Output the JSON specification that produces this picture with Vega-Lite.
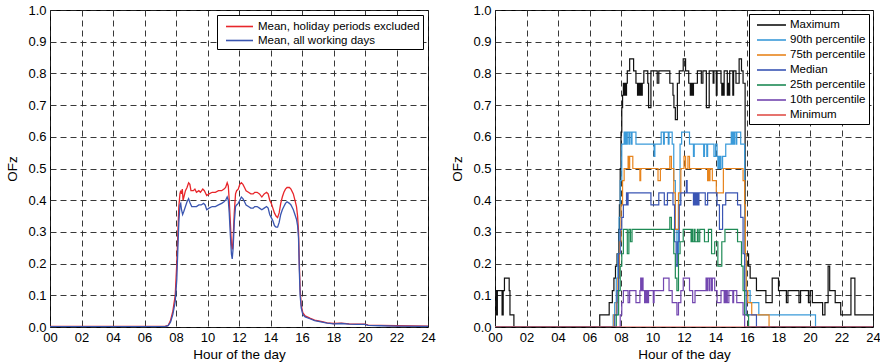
{
  "$schema": "https://vega.github.io/schema/vega-lite/v6.json",
  "background": "white",
  "padding": {"left": 5, "top": 3, "right": 0, "bottom": 2},
  "spacing": 14,
  "config": {
    "font": "Liberation Sans",
    "view": {"stroke": "black", "strokeWidth": 1},
    "axis": {
      "grid": true, "gridColor": "#222", "gridDash": [6, 4], "gridOpacity": 1, "gridWidth": 0.9,
      "domain": false, "ticks": false,
      "labelFontSize": 13, "labelColor": "#000", "labelPadding": 4,
      "titleFontSize": 13.5, "titleFontWeight": "normal", "titleColor": "#000"
    },
    "legend": {
      "orient": "top-right", "offset": 5, "strokeColor": "#000", "fillColor": "#fff",
      "padding": 3, "cornerRadius": 0, "title": null, "labelLimit": 400,
      "symbolStrokeWidth": 1.6,
      "labelFontSize": 11.5, "labelColor": "#000"
    }
  },
  "datasets": {
    "mean": [
      {"series":"Mean, holiday periods excluded","hour":0,"ofz":0.002},
      {"series":"Mean, holiday periods excluded","hour":7.3,"ofz":0.002},
      {"series":"Mean, holiday periods excluded","hour":7.5,"ofz":0.005},
      {"series":"Mean, holiday periods excluded","hour":7.65,"ofz":0.02},
      {"series":"Mean, holiday periods excluded","hour":7.8,"ofz":0.05},
      {"series":"Mean, holiday periods excluded","hour":7.95,"ofz":0.1},
      {"series":"Mean, holiday periods excluded","hour":8.05,"ofz":0.2},
      {"series":"Mean, holiday periods excluded","hour":8.12,"ofz":0.3},
      {"series":"Mean, holiday periods excluded","hour":8.18,"ofz":0.38},
      {"series":"Mean, holiday periods excluded","hour":8.25,"ofz":0.42},
      {"series":"Mean, holiday periods excluded","hour":8.3,"ofz":0.43},
      {"series":"Mean, holiday periods excluded","hour":8.35,"ofz":0.42},
      {"series":"Mean, holiday periods excluded","hour":8.4,"ofz":0.435},
      {"series":"Mean, holiday periods excluded","hour":8.45,"ofz":0.4},
      {"series":"Mean, holiday periods excluded","hour":8.5,"ofz":0.41},
      {"series":"Mean, holiday periods excluded","hour":8.6,"ofz":0.43},
      {"series":"Mean, holiday periods excluded","hour":8.7,"ofz":0.44},
      {"series":"Mean, holiday periods excluded","hour":8.8,"ofz":0.455},
      {"series":"Mean, holiday periods excluded","hour":8.88,"ofz":0.45},
      {"series":"Mean, holiday periods excluded","hour":8.95,"ofz":0.43},
      {"series":"Mean, holiday periods excluded","hour":9.1,"ofz":0.43},
      {"series":"Mean, holiday periods excluded","hour":9.2,"ofz":0.435},
      {"series":"Mean, holiday periods excluded","hour":9.3,"ofz":0.425},
      {"series":"Mean, holiday periods excluded","hour":9.45,"ofz":0.43},
      {"series":"Mean, holiday periods excluded","hour":9.55,"ofz":0.425},
      {"series":"Mean, holiday periods excluded","hour":9.7,"ofz":0.435},
      {"series":"Mean, holiday periods excluded","hour":9.8,"ofz":0.43},
      {"series":"Mean, holiday periods excluded","hour":9.95,"ofz":0.415},
      {"series":"Mean, holiday periods excluded","hour":10.1,"ofz":0.42},
      {"series":"Mean, holiday periods excluded","hour":10.3,"ofz":0.425},
      {"series":"Mean, holiday periods excluded","hour":10.5,"ofz":0.425},
      {"series":"Mean, holiday periods excluded","hour":10.7,"ofz":0.43},
      {"series":"Mean, holiday periods excluded","hour":10.9,"ofz":0.43},
      {"series":"Mean, holiday periods excluded","hour":11.05,"ofz":0.435},
      {"series":"Mean, holiday periods excluded","hour":11.15,"ofz":0.44},
      {"series":"Mean, holiday periods excluded","hour":11.25,"ofz":0.455},
      {"series":"Mean, holiday periods excluded","hour":11.32,"ofz":0.445},
      {"series":"Mean, holiday periods excluded","hour":11.38,"ofz":0.4},
      {"series":"Mean, holiday periods excluded","hour":11.45,"ofz":0.33},
      {"series":"Mean, holiday periods excluded","hour":11.52,"ofz":0.26},
      {"series":"Mean, holiday periods excluded","hour":11.58,"ofz":0.245},
      {"series":"Mean, holiday periods excluded","hour":11.63,"ofz":0.28},
      {"series":"Mean, holiday periods excluded","hour":11.7,"ofz":0.36},
      {"series":"Mean, holiday periods excluded","hour":11.78,"ofz":0.42},
      {"series":"Mean, holiday periods excluded","hour":11.85,"ofz":0.43},
      {"series":"Mean, holiday periods excluded","hour":11.95,"ofz":0.435},
      {"series":"Mean, holiday periods excluded","hour":12.05,"ofz":0.45},
      {"series":"Mean, holiday periods excluded","hour":12.15,"ofz":0.455},
      {"series":"Mean, holiday periods excluded","hour":12.25,"ofz":0.45},
      {"series":"Mean, holiday periods excluded","hour":12.35,"ofz":0.44},
      {"series":"Mean, holiday periods excluded","hour":12.45,"ofz":0.43},
      {"series":"Mean, holiday periods excluded","hour":12.6,"ofz":0.425},
      {"series":"Mean, holiday periods excluded","hour":12.75,"ofz":0.42},
      {"series":"Mean, holiday periods excluded","hour":12.9,"ofz":0.42},
      {"series":"Mean, holiday periods excluded","hour":13.0,"ofz":0.425},
      {"series":"Mean, holiday periods excluded","hour":13.15,"ofz":0.425},
      {"series":"Mean, holiday periods excluded","hour":13.3,"ofz":0.42},
      {"series":"Mean, holiday periods excluded","hour":13.45,"ofz":0.41},
      {"series":"Mean, holiday periods excluded","hour":13.6,"ofz":0.42},
      {"series":"Mean, holiday periods excluded","hour":13.75,"ofz":0.425},
      {"series":"Mean, holiday periods excluded","hour":13.85,"ofz":0.42},
      {"series":"Mean, holiday periods excluded","hour":13.95,"ofz":0.4},
      {"series":"Mean, holiday periods excluded","hour":14.05,"ofz":0.39},
      {"series":"Mean, holiday periods excluded","hour":14.15,"ofz":0.375},
      {"series":"Mean, holiday periods excluded","hour":14.25,"ofz":0.36},
      {"series":"Mean, holiday periods excluded","hour":14.35,"ofz":0.35},
      {"series":"Mean, holiday periods excluded","hour":14.45,"ofz":0.345},
      {"series":"Mean, holiday periods excluded","hour":14.55,"ofz":0.36},
      {"series":"Mean, holiday periods excluded","hour":14.65,"ofz":0.39},
      {"series":"Mean, holiday periods excluded","hour":14.75,"ofz":0.41},
      {"series":"Mean, holiday periods excluded","hour":14.85,"ofz":0.425},
      {"series":"Mean, holiday periods excluded","hour":14.95,"ofz":0.435},
      {"series":"Mean, holiday periods excluded","hour":15.05,"ofz":0.44},
      {"series":"Mean, holiday periods excluded","hour":15.2,"ofz":0.44},
      {"series":"Mean, holiday periods excluded","hour":15.3,"ofz":0.435},
      {"series":"Mean, holiday periods excluded","hour":15.45,"ofz":0.42},
      {"series":"Mean, holiday periods excluded","hour":15.55,"ofz":0.4},
      {"series":"Mean, holiday periods excluded","hour":15.65,"ofz":0.38},
      {"series":"Mean, holiday periods excluded","hour":15.72,"ofz":0.35},
      {"series":"Mean, holiday periods excluded","hour":15.78,"ofz":0.3},
      {"series":"Mean, holiday periods excluded","hour":15.83,"ofz":0.2},
      {"series":"Mean, holiday periods excluded","hour":15.88,"ofz":0.12},
      {"series":"Mean, holiday periods excluded","hour":15.95,"ofz":0.07},
      {"series":"Mean, holiday periods excluded","hour":16.05,"ofz":0.045},
      {"series":"Mean, holiday periods excluded","hour":16.2,"ofz":0.035},
      {"series":"Mean, holiday periods excluded","hour":16.5,"ofz":0.028},
      {"series":"Mean, holiday periods excluded","hour":16.8,"ofz":0.022},
      {"series":"Mean, holiday periods excluded","hour":17.2,"ofz":0.018},
      {"series":"Mean, holiday periods excluded","hour":17.6,"ofz":0.013},
      {"series":"Mean, holiday periods excluded","hour":18.0,"ofz":0.011},
      {"series":"Mean, holiday periods excluded","hour":18.5,"ofz":0.012},
      {"series":"Mean, holiday periods excluded","hour":19.0,"ofz":0.01},
      {"series":"Mean, holiday periods excluded","hour":19.5,"ofz":0.009},
      {"series":"Mean, holiday periods excluded","hour":20.0,"ofz":0.009},
      {"series":"Mean, holiday periods excluded","hour":20.2,"ofz":0.006},
      {"series":"Mean, holiday periods excluded","hour":21.0,"ofz":0.005},
      {"series":"Mean, holiday periods excluded","hour":22.0,"ofz":0.004},
      {"series":"Mean, holiday periods excluded","hour":24,"ofz":0.003},
      {"series":"Mean, all working days","hour":0,"ofz":0.001},
      {"series":"Mean, all working days","hour":7.3,"ofz":0.001},
      {"series":"Mean, all working days","hour":7.5,"ofz":0.004},
      {"series":"Mean, all working days","hour":7.65,"ofz":0.015},
      {"series":"Mean, all working days","hour":7.8,"ofz":0.04},
      {"series":"Mean, all working days","hour":7.95,"ofz":0.08},
      {"series":"Mean, all working days","hour":8.05,"ofz":0.15},
      {"series":"Mean, all working days","hour":8.12,"ofz":0.25},
      {"series":"Mean, all working days","hour":8.18,"ofz":0.33},
      {"series":"Mean, all working days","hour":8.25,"ofz":0.385},
      {"series":"Mean, all working days","hour":8.3,"ofz":0.39},
      {"series":"Mean, all working days","hour":8.35,"ofz":0.37},
      {"series":"Mean, all working days","hour":8.42,"ofz":0.355},
      {"series":"Mean, all working days","hour":8.5,"ofz":0.365},
      {"series":"Mean, all working days","hour":8.6,"ofz":0.38},
      {"series":"Mean, all working days","hour":8.7,"ofz":0.395},
      {"series":"Mean, all working days","hour":8.8,"ofz":0.405},
      {"series":"Mean, all working days","hour":8.9,"ofz":0.39},
      {"series":"Mean, all working days","hour":9.0,"ofz":0.38},
      {"series":"Mean, all working days","hour":9.15,"ofz":0.38},
      {"series":"Mean, all working days","hour":9.3,"ofz":0.38},
      {"series":"Mean, all working days","hour":9.45,"ofz":0.385},
      {"series":"Mean, all working days","hour":9.6,"ofz":0.385},
      {"series":"Mean, all working days","hour":9.75,"ofz":0.39},
      {"series":"Mean, all working days","hour":9.85,"ofz":0.385},
      {"series":"Mean, all working days","hour":9.95,"ofz":0.37},
      {"series":"Mean, all working days","hour":10.1,"ofz":0.375},
      {"series":"Mean, all working days","hour":10.3,"ofz":0.38},
      {"series":"Mean, all working days","hour":10.5,"ofz":0.38},
      {"series":"Mean, all working days","hour":10.7,"ofz":0.385},
      {"series":"Mean, all working days","hour":10.9,"ofz":0.39},
      {"series":"Mean, all working days","hour":11.05,"ofz":0.395},
      {"series":"Mean, all working days","hour":11.15,"ofz":0.4},
      {"series":"Mean, all working days","hour":11.25,"ofz":0.41},
      {"series":"Mean, all working days","hour":11.32,"ofz":0.4},
      {"series":"Mean, all working days","hour":11.38,"ofz":0.36},
      {"series":"Mean, all working days","hour":11.45,"ofz":0.29},
      {"series":"Mean, all working days","hour":11.52,"ofz":0.23},
      {"series":"Mean, all working days","hour":11.57,"ofz":0.215},
      {"series":"Mean, all working days","hour":11.63,"ofz":0.25},
      {"series":"Mean, all working days","hour":11.7,"ofz":0.33},
      {"series":"Mean, all working days","hour":11.78,"ofz":0.38},
      {"series":"Mean, all working days","hour":11.85,"ofz":0.385},
      {"series":"Mean, all working days","hour":11.95,"ofz":0.39},
      {"series":"Mean, all working days","hour":12.05,"ofz":0.4},
      {"series":"Mean, all working days","hour":12.15,"ofz":0.41},
      {"series":"Mean, all working days","hour":12.25,"ofz":0.405},
      {"series":"Mean, all working days","hour":12.35,"ofz":0.395},
      {"series":"Mean, all working days","hour":12.45,"ofz":0.385},
      {"series":"Mean, all working days","hour":12.6,"ofz":0.38},
      {"series":"Mean, all working days","hour":12.75,"ofz":0.375},
      {"series":"Mean, all working days","hour":12.9,"ofz":0.375},
      {"series":"Mean, all working days","hour":13.0,"ofz":0.38},
      {"series":"Mean, all working days","hour":13.15,"ofz":0.38},
      {"series":"Mean, all working days","hour":13.3,"ofz":0.375},
      {"series":"Mean, all working days","hour":13.45,"ofz":0.37},
      {"series":"Mean, all working days","hour":13.6,"ofz":0.375},
      {"series":"Mean, all working days","hour":13.75,"ofz":0.38},
      {"series":"Mean, all working days","hour":13.85,"ofz":0.375},
      {"series":"Mean, all working days","hour":13.95,"ofz":0.355},
      {"series":"Mean, all working days","hour":14.05,"ofz":0.345},
      {"series":"Mean, all working days","hour":14.15,"ofz":0.335},
      {"series":"Mean, all working days","hour":14.25,"ofz":0.32},
      {"series":"Mean, all working days","hour":14.35,"ofz":0.315},
      {"series":"Mean, all working days","hour":14.45,"ofz":0.315},
      {"series":"Mean, all working days","hour":14.55,"ofz":0.33},
      {"series":"Mean, all working days","hour":14.65,"ofz":0.355},
      {"series":"Mean, all working days","hour":14.75,"ofz":0.37},
      {"series":"Mean, all working days","hour":14.85,"ofz":0.38},
      {"series":"Mean, all working days","hour":14.95,"ofz":0.39},
      {"series":"Mean, all working days","hour":15.05,"ofz":0.395},
      {"series":"Mean, all working days","hour":15.2,"ofz":0.39},
      {"series":"Mean, all working days","hour":15.3,"ofz":0.385},
      {"series":"Mean, all working days","hour":15.45,"ofz":0.37},
      {"series":"Mean, all working days","hour":15.55,"ofz":0.355},
      {"series":"Mean, all working days","hour":15.65,"ofz":0.34},
      {"series":"Mean, all working days","hour":15.72,"ofz":0.32},
      {"series":"Mean, all working days","hour":15.78,"ofz":0.28},
      {"series":"Mean, all working days","hour":15.83,"ofz":0.18},
      {"series":"Mean, all working days","hour":15.88,"ofz":0.1},
      {"series":"Mean, all working days","hour":15.95,"ofz":0.06},
      {"series":"Mean, all working days","hour":16.05,"ofz":0.04},
      {"series":"Mean, all working days","hour":16.2,"ofz":0.032},
      {"series":"Mean, all working days","hour":16.5,"ofz":0.026},
      {"series":"Mean, all working days","hour":16.8,"ofz":0.02},
      {"series":"Mean, all working days","hour":17.2,"ofz":0.016},
      {"series":"Mean, all working days","hour":17.6,"ofz":0.012},
      {"series":"Mean, all working days","hour":18.0,"ofz":0.01},
      {"series":"Mean, all working days","hour":18.5,"ofz":0.011},
      {"series":"Mean, all working days","hour":19.0,"ofz":0.009},
      {"series":"Mean, all working days","hour":19.5,"ofz":0.008},
      {"series":"Mean, all working days","hour":20.0,"ofz":0.008},
      {"series":"Mean, all working days","hour":20.2,"ofz":0.005},
      {"series":"Mean, all working days","hour":21.0,"ofz":0.004},
      {"series":"Mean, all working days","hour":22.0,"ofz":0.003},
      {"series":"Mean, all working days","hour":24,"ofz":0.002}
    ],
    "pct": [
      {"series":"Maximum","hour":0,"ofz":0.115},
      {"series":"Maximum","hour":0.1,"ofz":0.038},
      {"series":"Maximum","hour":0.15,"ofz":0.115},
      {"series":"Maximum","hour":0.45,"ofz":0.038},
      {"series":"Maximum","hour":0.52,"ofz":0.115},
      {"series":"Maximum","hour":0.6,"ofz":0.154},
      {"series":"Maximum","hour":0.9,"ofz":0.115},
      {"series":"Maximum","hour":0.95,"ofz":0.038},
      {"series":"Maximum","hour":1.2,"ofz":0},
      {"series":"Maximum","hour":6.65,"ofz":0.038},
      {"series":"Maximum","hour":7.25,"ofz":0.077},
      {"series":"Maximum","hour":7.45,"ofz":0.115},
      {"series":"Maximum","hour":7.55,"ofz":0.154},
      {"series":"Maximum","hour":7.65,"ofz":0.192},
      {"series":"Maximum","hour":7.75,"ofz":0.231},
      {"series":"Maximum","hour":7.85,"ofz":0.308},
      {"series":"Maximum","hour":7.9,"ofz":0.385},
      {"series":"Maximum","hour":7.95,"ofz":0.5},
      {"series":"Maximum","hour":8.0,"ofz":0.615},
      {"series":"Maximum","hour":8.05,"ofz":0.692},
      {"series":"Maximum","hour":8.1,"ofz":0.731},
      {"series":"Maximum","hour":8.15,"ofz":0.769},
      {"series":"Maximum","hour":8.2,"ofz":0.731},
      {"series":"Maximum","hour":8.23,"ofz":0.769},
      {"series":"Maximum","hour":8.26,"ofz":0.731},
      {"series":"Maximum","hour":8.29,"ofz":0.769},
      {"series":"Maximum","hour":8.32,"ofz":0.731},
      {"series":"Maximum","hour":8.35,"ofz":0.769},
      {"series":"Maximum","hour":8.4,"ofz":0.808},
      {"series":"Maximum","hour":8.55,"ofz":0.846},
      {"series":"Maximum","hour":8.8,"ofz":0.808},
      {"series":"Maximum","hour":8.95,"ofz":0.769},
      {"series":"Maximum","hour":9.05,"ofz":0.731},
      {"series":"Maximum","hour":9.08,"ofz":0.769},
      {"series":"Maximum","hour":9.12,"ofz":0.731},
      {"series":"Maximum","hour":9.16,"ofz":0.769},
      {"series":"Maximum","hour":9.2,"ofz":0.731},
      {"series":"Maximum","hour":9.24,"ofz":0.769},
      {"series":"Maximum","hour":9.28,"ofz":0.731},
      {"series":"Maximum","hour":9.35,"ofz":0.769},
      {"series":"Maximum","hour":9.45,"ofz":0.808},
      {"series":"Maximum","hour":9.7,"ofz":0.769},
      {"series":"Maximum","hour":9.75,"ofz":0.692},
      {"series":"Maximum","hour":9.9,"ofz":0.808},
      {"series":"Maximum","hour":10.3,"ofz":0.769},
      {"series":"Maximum","hour":10.4,"ofz":0.808},
      {"series":"Maximum","hour":11.1,"ofz":0.769},
      {"series":"Maximum","hour":11.3,"ofz":0.731},
      {"series":"Maximum","hour":11.36,"ofz":0.692},
      {"series":"Maximum","hour":11.45,"ofz":0.654},
      {"series":"Maximum","hour":11.58,"ofz":0.769},
      {"series":"Maximum","hour":11.7,"ofz":0.808},
      {"series":"Maximum","hour":11.95,"ofz":0.846},
      {"series":"Maximum","hour":12.1,"ofz":0.808},
      {"series":"Maximum","hour":12.3,"ofz":0.769},
      {"series":"Maximum","hour":12.4,"ofz":0.731},
      {"series":"Maximum","hour":12.44,"ofz":0.769},
      {"series":"Maximum","hour":12.48,"ofz":0.731},
      {"series":"Maximum","hour":12.52,"ofz":0.769},
      {"series":"Maximum","hour":12.56,"ofz":0.731},
      {"series":"Maximum","hour":12.6,"ofz":0.769},
      {"series":"Maximum","hour":12.85,"ofz":0.808},
      {"series":"Maximum","hour":13.1,"ofz":0.769},
      {"series":"Maximum","hour":13.2,"ofz":0.808},
      {"series":"Maximum","hour":13.42,"ofz":0.692},
      {"series":"Maximum","hour":13.6,"ofz":0.808},
      {"series":"Maximum","hour":13.85,"ofz":0.769},
      {"series":"Maximum","hour":13.9,"ofz":0.808},
      {"series":"Maximum","hour":14.05,"ofz":0.731},
      {"series":"Maximum","hour":14.1,"ofz":0.808},
      {"series":"Maximum","hour":14.35,"ofz":0.769},
      {"series":"Maximum","hour":14.4,"ofz":0.731},
      {"series":"Maximum","hour":14.44,"ofz":0.769},
      {"series":"Maximum","hour":14.48,"ofz":0.731},
      {"series":"Maximum","hour":14.55,"ofz":0.808},
      {"series":"Maximum","hour":14.75,"ofz":0.731},
      {"series":"Maximum","hour":14.8,"ofz":0.769},
      {"series":"Maximum","hour":14.85,"ofz":0.731},
      {"series":"Maximum","hour":14.9,"ofz":0.808},
      {"series":"Maximum","hour":15.1,"ofz":0.731},
      {"series":"Maximum","hour":15.15,"ofz":0.808},
      {"series":"Maximum","hour":15.3,"ofz":0.769},
      {"series":"Maximum","hour":15.5,"ofz":0.846},
      {"series":"Maximum","hour":15.65,"ofz":0.808},
      {"series":"Maximum","hour":15.75,"ofz":0.769},
      {"series":"Maximum","hour":15.88,"ofz":0.231},
      {"series":"Maximum","hour":16.1,"ofz":0.192},
      {"series":"Maximum","hour":16.2,"ofz":0.154},
      {"series":"Maximum","hour":16.6,"ofz":0.115},
      {"series":"Maximum","hour":17.2,"ofz":0.077},
      {"series":"Maximum","hour":17.6,"ofz":0.154},
      {"series":"Maximum","hour":18.0,"ofz":0.115},
      {"series":"Maximum","hour":18.5,"ofz":0.077},
      {"series":"Maximum","hour":18.6,"ofz":0.115},
      {"series":"Maximum","hour":19.3,"ofz":0.077},
      {"series":"Maximum","hour":19.4,"ofz":0.115},
      {"series":"Maximum","hour":19.9,"ofz":0.077},
      {"series":"Maximum","hour":20.0,"ofz":0.115},
      {"series":"Maximum","hour":20.15,"ofz":0.077},
      {"series":"Maximum","hour":20.8,"ofz":0.038},
      {"series":"Maximum","hour":20.95,"ofz":0.077},
      {"series":"Maximum","hour":21.15,"ofz":0.192},
      {"series":"Maximum","hour":21.25,"ofz":0.115},
      {"series":"Maximum","hour":21.6,"ofz":0.077},
      {"series":"Maximum","hour":21.95,"ofz":0.038},
      {"series":"Maximum","hour":22.6,"ofz":0.154},
      {"series":"Maximum","hour":22.85,"ofz":0.038},
      {"series":"Maximum","hour":24,"ofz":0.038},

      {"series":"90th percentile","hour":0,"ofz":0},
      {"series":"90th percentile","hour":7.5,"ofz":0.038},
      {"series":"90th percentile","hour":7.6,"ofz":0.077},
      {"series":"90th percentile","hour":7.7,"ofz":0.154},
      {"series":"90th percentile","hour":7.8,"ofz":0.231},
      {"series":"90th percentile","hour":7.88,"ofz":0.346},
      {"series":"90th percentile","hour":7.95,"ofz":0.462},
      {"series":"90th percentile","hour":8.05,"ofz":0.577},
      {"series":"90th percentile","hour":8.2,"ofz":0.615},
      {"series":"90th percentile","hour":8.25,"ofz":0.577},
      {"series":"90th percentile","hour":8.3,"ofz":0.615},
      {"series":"90th percentile","hour":8.35,"ofz":0.577},
      {"series":"90th percentile","hour":8.4,"ofz":0.615},
      {"series":"90th percentile","hour":8.5,"ofz":0.577},
      {"series":"90th percentile","hour":8.55,"ofz":0.615},
      {"series":"90th percentile","hour":8.65,"ofz":0.577},
      {"series":"90th percentile","hour":8.7,"ofz":0.615},
      {"series":"90th percentile","hour":8.95,"ofz":0.577},
      {"series":"90th percentile","hour":10.1,"ofz":0.538},
      {"series":"90th percentile","hour":10.15,"ofz":0.577},
      {"series":"90th percentile","hour":10.55,"ofz":0.615},
      {"series":"90th percentile","hour":10.7,"ofz":0.577},
      {"series":"90th percentile","hour":10.75,"ofz":0.615},
      {"series":"90th percentile","hour":11.0,"ofz":0.577},
      {"series":"90th percentile","hour":11.05,"ofz":0.615},
      {"series":"90th percentile","hour":11.25,"ofz":0.577},
      {"series":"90th percentile","hour":11.35,"ofz":0.462},
      {"series":"90th percentile","hour":11.45,"ofz":0.308},
      {"series":"90th percentile","hour":11.55,"ofz":0.231},
      {"series":"90th percentile","hour":11.65,"ofz":0.385},
      {"series":"90th percentile","hour":11.75,"ofz":0.577},
      {"series":"90th percentile","hour":11.85,"ofz":0.615},
      {"series":"90th percentile","hour":12.35,"ofz":0.577},
      {"series":"90th percentile","hour":12.6,"ofz":0.538},
      {"series":"90th percentile","hour":12.65,"ofz":0.577},
      {"series":"90th percentile","hour":13.25,"ofz":0.538},
      {"series":"90th percentile","hour":13.3,"ofz":0.577},
      {"series":"90th percentile","hour":13.45,"ofz":0.538},
      {"series":"90th percentile","hour":13.5,"ofz":0.577},
      {"series":"90th percentile","hour":13.9,"ofz":0.538},
      {"series":"90th percentile","hour":14.0,"ofz":0.577},
      {"series":"90th percentile","hour":14.1,"ofz":0.538},
      {"series":"90th percentile","hour":14.15,"ofz":0.5},
      {"series":"90th percentile","hour":14.2,"ofz":0.538},
      {"series":"90th percentile","hour":14.25,"ofz":0.5},
      {"series":"90th percentile","hour":14.3,"ofz":0.538},
      {"series":"90th percentile","hour":14.35,"ofz":0.5},
      {"series":"90th percentile","hour":14.45,"ofz":0.538},
      {"series":"90th percentile","hour":14.65,"ofz":0.577},
      {"series":"90th percentile","hour":15.0,"ofz":0.615},
      {"series":"90th percentile","hour":15.05,"ofz":0.577},
      {"series":"90th percentile","hour":15.1,"ofz":0.615},
      {"series":"90th percentile","hour":15.15,"ofz":0.577},
      {"series":"90th percentile","hour":15.2,"ofz":0.615},
      {"series":"90th percentile","hour":15.3,"ofz":0.577},
      {"series":"90th percentile","hour":15.35,"ofz":0.615},
      {"series":"90th percentile","hour":15.6,"ofz":0.577},
      {"series":"90th percentile","hour":15.85,"ofz":0.385},
      {"series":"90th percentile","hour":15.9,"ofz":0.231},
      {"series":"90th percentile","hour":15.95,"ofz":0.115},
      {"series":"90th percentile","hour":16.2,"ofz":0.077},
      {"series":"90th percentile","hour":16.75,"ofz":0.038},
      {"series":"90th percentile","hour":20.35,"ofz":0},
      {"series":"90th percentile","hour":24,"ofz":0},

      {"series":"75th percentile","hour":0,"ofz":0},
      {"series":"75th percentile","hour":7.55,"ofz":0.038},
      {"series":"75th percentile","hour":7.7,"ofz":0.077},
      {"series":"75th percentile","hour":7.8,"ofz":0.154},
      {"series":"75th percentile","hour":7.9,"ofz":0.269},
      {"series":"75th percentile","hour":8.0,"ofz":0.385},
      {"series":"75th percentile","hour":8.1,"ofz":0.462},
      {"series":"75th percentile","hour":8.2,"ofz":0.5},
      {"series":"75th percentile","hour":8.45,"ofz":0.538},
      {"series":"75th percentile","hour":8.5,"ofz":0.5},
      {"series":"75th percentile","hour":8.55,"ofz":0.538},
      {"series":"75th percentile","hour":8.75,"ofz":0.5},
      {"series":"75th percentile","hour":9.2,"ofz":0.462},
      {"series":"75th percentile","hour":9.25,"ofz":0.5},
      {"series":"75th percentile","hour":10.35,"ofz":0.462},
      {"series":"75th percentile","hour":10.5,"ofz":0.5},
      {"series":"75th percentile","hour":11.1,"ofz":0.538},
      {"series":"75th percentile","hour":11.2,"ofz":0.5},
      {"series":"75th percentile","hour":11.35,"ofz":0.423},
      {"series":"75th percentile","hour":11.45,"ofz":0.308},
      {"series":"75th percentile","hour":11.65,"ofz":0.423},
      {"series":"75th percentile","hour":11.8,"ofz":0.5},
      {"series":"75th percentile","hour":12.0,"ofz":0.538},
      {"series":"75th percentile","hour":12.1,"ofz":0.5},
      {"series":"75th percentile","hour":12.25,"ofz":0.538},
      {"series":"75th percentile","hour":12.35,"ofz":0.5},
      {"series":"75th percentile","hour":13.5,"ofz":0.462},
      {"series":"75th percentile","hour":13.55,"ofz":0.5},
      {"series":"75th percentile","hour":13.6,"ofz":0.462},
      {"series":"75th percentile","hour":13.65,"ofz":0.5},
      {"series":"75th percentile","hour":13.8,"ofz":0.462},
      {"series":"75th percentile","hour":14.05,"ofz":0.423},
      {"series":"75th percentile","hour":14.5,"ofz":0.5},
      {"series":"75th percentile","hour":15.75,"ofz":0.462},
      {"series":"75th percentile","hour":15.85,"ofz":0.385},
      {"series":"75th percentile","hour":15.9,"ofz":0.231},
      {"series":"75th percentile","hour":15.95,"ofz":0.115},
      {"series":"75th percentile","hour":16.05,"ofz":0.077},
      {"series":"75th percentile","hour":16.3,"ofz":0.038},
      {"series":"75th percentile","hour":17.4,"ofz":0},
      {"series":"75th percentile","hour":24,"ofz":0},

      {"series":"Median","hour":0,"ofz":0},
      {"series":"Median","hour":7.6,"ofz":0.038},
      {"series":"Median","hour":7.75,"ofz":0.115},
      {"series":"Median","hour":7.85,"ofz":0.231},
      {"series":"Median","hour":7.95,"ofz":0.308},
      {"series":"Median","hour":8.05,"ofz":0.346},
      {"series":"Median","hour":8.15,"ofz":0.385},
      {"series":"Median","hour":8.35,"ofz":0.423},
      {"series":"Median","hour":8.4,"ofz":0.385},
      {"series":"Median","hour":8.45,"ofz":0.423},
      {"series":"Median","hour":9.9,"ofz":0.385},
      {"series":"Median","hour":10.4,"ofz":0.423},
      {"series":"Median","hour":10.75,"ofz":0.385},
      {"series":"Median","hour":10.95,"ofz":0.423},
      {"series":"Median","hour":11.3,"ofz":0.385},
      {"series":"Median","hour":11.4,"ofz":0.269},
      {"series":"Median","hour":11.5,"ofz":0.192},
      {"series":"Median","hour":11.6,"ofz":0.269},
      {"series":"Median","hour":11.7,"ofz":0.385},
      {"series":"Median","hour":11.8,"ofz":0.423},
      {"series":"Median","hour":12.15,"ofz":0.462},
      {"series":"Median","hour":12.2,"ofz":0.423},
      {"series":"Median","hour":12.6,"ofz":0.385},
      {"series":"Median","hour":12.65,"ofz":0.423},
      {"series":"Median","hour":12.7,"ofz":0.385},
      {"series":"Median","hour":12.75,"ofz":0.423},
      {"series":"Median","hour":12.8,"ofz":0.385},
      {"series":"Median","hour":12.85,"ofz":0.423},
      {"series":"Median","hour":12.9,"ofz":0.385},
      {"series":"Median","hour":12.95,"ofz":0.423},
      {"series":"Median","hour":13.35,"ofz":0.385},
      {"series":"Median","hour":13.5,"ofz":0.423},
      {"series":"Median","hour":14.1,"ofz":0.385},
      {"series":"Median","hour":14.25,"ofz":0.308},
      {"series":"Median","hour":14.45,"ofz":0.385},
      {"series":"Median","hour":14.65,"ofz":0.423},
      {"series":"Median","hour":15.4,"ofz":0.385},
      {"series":"Median","hour":15.6,"ofz":0.346},
      {"series":"Median","hour":15.75,"ofz":0.231},
      {"series":"Median","hour":15.85,"ofz":0.115},
      {"series":"Median","hour":15.95,"ofz":0.038},
      {"series":"Median","hour":16.6,"ofz":0},
      {"series":"Median","hour":24,"ofz":0},

      {"series":"25th percentile","hour":0,"ofz":0},
      {"series":"25th percentile","hour":7.7,"ofz":0.038},
      {"series":"25th percentile","hour":7.85,"ofz":0.115},
      {"series":"25th percentile","hour":7.95,"ofz":0.192},
      {"series":"25th percentile","hour":8.05,"ofz":0.231},
      {"series":"25th percentile","hour":8.15,"ofz":0.308},
      {"series":"25th percentile","hour":8.4,"ofz":0.231},
      {"series":"25th percentile","hour":8.5,"ofz":0.308},
      {"series":"25th percentile","hour":8.6,"ofz":0.269},
      {"series":"25th percentile","hour":8.7,"ofz":0.308},
      {"series":"25th percentile","hour":11.1,"ofz":0.346},
      {"series":"25th percentile","hour":11.2,"ofz":0.308},
      {"series":"25th percentile","hour":11.35,"ofz":0.231},
      {"series":"25th percentile","hour":11.45,"ofz":0.154},
      {"series":"25th percentile","hour":11.55,"ofz":0.115},
      {"series":"25th percentile","hour":11.65,"ofz":0.231},
      {"series":"25th percentile","hour":11.75,"ofz":0.269},
      {"series":"25th percentile","hour":11.95,"ofz":0.308},
      {"series":"25th percentile","hour":12.45,"ofz":0.269},
      {"series":"25th percentile","hour":12.5,"ofz":0.308},
      {"series":"25th percentile","hour":12.55,"ofz":0.269},
      {"series":"25th percentile","hour":12.65,"ofz":0.308},
      {"series":"25th percentile","hour":12.7,"ofz":0.269},
      {"series":"25th percentile","hour":12.85,"ofz":0.308},
      {"series":"25th percentile","hour":12.9,"ofz":0.269},
      {"series":"25th percentile","hour":13.0,"ofz":0.308},
      {"series":"25th percentile","hour":13.3,"ofz":0.269},
      {"series":"25th percentile","hour":13.55,"ofz":0.308},
      {"series":"25th percentile","hour":13.75,"ofz":0.231},
      {"series":"25th percentile","hour":13.95,"ofz":0.269},
      {"series":"25th percentile","hour":14.15,"ofz":0.192},
      {"series":"25th percentile","hour":14.4,"ofz":0.269},
      {"series":"25th percentile","hour":14.6,"ofz":0.308},
      {"series":"25th percentile","hour":15.4,"ofz":0.269},
      {"series":"25th percentile","hour":15.65,"ofz":0.192},
      {"series":"25th percentile","hour":15.75,"ofz":0.115},
      {"series":"25th percentile","hour":15.85,"ofz":0.038},
      {"series":"25th percentile","hour":16.1,"ofz":0},
      {"series":"25th percentile","hour":24,"ofz":0},

      {"series":"10th percentile","hour":0,"ofz":0},
      {"series":"10th percentile","hour":7.95,"ofz":0.038},
      {"series":"10th percentile","hour":8.05,"ofz":0.077},
      {"series":"10th percentile","hour":8.15,"ofz":0.115},
      {"series":"10th percentile","hour":8.45,"ofz":0.077},
      {"series":"10th percentile","hour":8.55,"ofz":0.115},
      {"series":"10th percentile","hour":8.95,"ofz":0.077},
      {"series":"10th percentile","hour":9.2,"ofz":0.115},
      {"series":"10th percentile","hour":9.25,"ofz":0.154},
      {"series":"10th percentile","hour":9.3,"ofz":0.115},
      {"series":"10th percentile","hour":9.35,"ofz":0.154},
      {"series":"10th percentile","hour":9.4,"ofz":0.115},
      {"series":"10th percentile","hour":9.5,"ofz":0.077},
      {"series":"10th percentile","hour":9.55,"ofz":0.115},
      {"series":"10th percentile","hour":9.6,"ofz":0.077},
      {"series":"10th percentile","hour":9.65,"ofz":0.115},
      {"series":"10th percentile","hour":9.7,"ofz":0.077},
      {"series":"10th percentile","hour":9.75,"ofz":0.115},
      {"series":"10th percentile","hour":10.05,"ofz":0.077},
      {"series":"10th percentile","hour":10.1,"ofz":0.115},
      {"series":"10th percentile","hour":10.7,"ofz":0.154},
      {"series":"10th percentile","hour":11.05,"ofz":0.115},
      {"series":"10th percentile","hour":11.25,"ofz":0.077},
      {"series":"10th percentile","hour":11.55,"ofz":0.038},
      {"series":"10th percentile","hour":11.65,"ofz":0.077},
      {"series":"10th percentile","hour":11.8,"ofz":0.115},
      {"series":"10th percentile","hour":11.95,"ofz":0.154},
      {"series":"10th percentile","hour":12.35,"ofz":0.115},
      {"series":"10th percentile","hour":12.55,"ofz":0.077},
      {"series":"10th percentile","hour":12.7,"ofz":0.115},
      {"series":"10th percentile","hour":13.4,"ofz":0.154},
      {"series":"10th percentile","hour":13.45,"ofz":0.115},
      {"series":"10th percentile","hour":13.5,"ofz":0.154},
      {"series":"10th percentile","hour":13.6,"ofz":0.115},
      {"series":"10th percentile","hour":13.65,"ofz":0.154},
      {"series":"10th percentile","hour":13.75,"ofz":0.115},
      {"series":"10th percentile","hour":13.8,"ofz":0.154},
      {"series":"10th percentile","hour":13.95,"ofz":0.115},
      {"series":"10th percentile","hour":14.1,"ofz":0.077},
      {"series":"10th percentile","hour":14.35,"ofz":0.115},
      {"series":"10th percentile","hour":14.55,"ofz":0.077},
      {"series":"10th percentile","hour":14.6,"ofz":0.115},
      {"series":"10th percentile","hour":14.65,"ofz":0.077},
      {"series":"10th percentile","hour":14.7,"ofz":0.115},
      {"series":"10th percentile","hour":14.75,"ofz":0.077},
      {"series":"10th percentile","hour":14.85,"ofz":0.115},
      {"series":"10th percentile","hour":15.1,"ofz":0.077},
      {"series":"10th percentile","hour":15.15,"ofz":0.115},
      {"series":"10th percentile","hour":15.35,"ofz":0.077},
      {"series":"10th percentile","hour":15.75,"ofz":0.038},
      {"series":"10th percentile","hour":15.85,"ofz":0},
      {"series":"10th percentile","hour":24,"ofz":0},

      {"series":"Minimum","hour":0,"ofz":0},
      {"series":"Minimum","hour":24,"ofz":0}
    ]
  },
  "resolve": {"scale": {"color": "independent"}, "legend": {"color": "independent"}},
  "hconcat": [
    {
      "width": 378, "height": 317,
      "data": {"name": "mean"},
      "mark": {"type": "line", "strokeWidth": 1.3, "clip": true},
      "encoding": {
        "x": {"field": "hour", "type": "quantitative", "title": "Hour of the day",
              "scale": {"domain": [0, 24], "nice": false},
              "axis": {"values": [0,2,4,6,8,10,12,14,16,18,20,22,24], "labelFlush": false, "labelOverlap": false,
                       "labelExpr": "datum.value < 10 ? '0' + datum.value : '' + datum.value", "titlePadding": 3}},
        "y": {"field": "ofz", "type": "quantitative", "title": "OFz",
              "scale": {"domain": [0, 1], "nice": false},
              "axis": {"values": [0,0.1,0.2,0.3,0.4,0.5,0.6,0.7,0.8,0.9,1], "format": ".1f", "titlePadding": 8}},
        "color": {"field": "series", "type": "nominal",
                  "scale": {"domain": ["Mean, holiday periods excluded", "Mean, all working days"], "range": ["#e8262b", "#3a55b0"]},
                  "legend": {"title": null, "orient": "top-right", "offset": 5, "symbolType": "M-0.33,0H3.27", "symbolSize": 225, "rowPadding": 0, "labelOffset": 21}}
      }
    },
    {
      "width": 378, "height": 317,
      "data": {"name": "pct"},
      "mark": {"type": "line", "strokeWidth": 1.2, "interpolate": "step-after", "clip": true},
      "encoding": {
        "x": {"field": "hour", "type": "quantitative", "title": "Hour of the day",
              "scale": {"domain": [0, 24], "nice": false},
              "axis": {"values": [0,2,4,6,8,10,12,14,16,18,20,22,24], "labelFlush": false, "labelOverlap": false,
                       "labelExpr": "datum.value < 10 ? '0' + datum.value : '' + datum.value", "titlePadding": 3}},
        "y": {"field": "ofz", "type": "quantitative", "title": "OFz",
              "scale": {"domain": [0, 1], "nice": false},
              "axis": {"values": [0,0.1,0.2,0.3,0.4,0.5,0.6,0.7,0.8,0.9,1], "format": ".1f", "titlePadding": 8}},
        "color": {"field": "series", "type": "nominal",
                  "scale": {"domain": ["Maximum", "90th percentile", "75th percentile", "Median", "25th percentile", "10th percentile", "Minimum"],
                            "range": ["#111111", "#3a9ad9", "#e8841c", "#3a55b4", "#1e8a55", "#7347b0", "#e0504a"]},
                  "legend": {"title": null, "orient": "top-right", "offset": 4, "symbolType": "M-0.43,0H3.71", "symbolSize": 196, "rowPadding": 1, "labelOffset": 22}}
      }
    }
  ]
}
